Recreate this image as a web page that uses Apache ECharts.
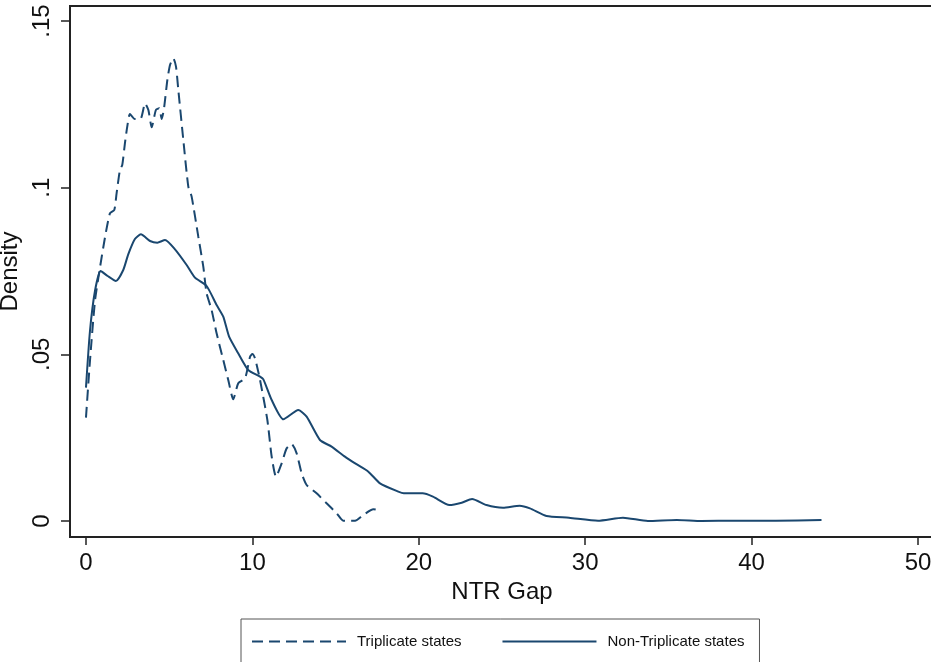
<!DOCTYPE html>
<html>
<head>
<meta charset="utf-8">
<script src="https://cdn.jsdelivr.net/npm/echarts@6/dist/echarts.min.js"></script>
<style>
  html, body { margin: 0; padding: 0; background: #fff; }
  #chart { width: 931px; height: 662px; }
</style>
</head>
<body>
<div id="chart"></div>
<script>
// kernel density
var triplicateGap = [0, 0.24, 0.54, 0.84, 1.14, 1.44, 1.7, 1.84, 2.04, 2.18, 2.34, 2.48, 2.64, 2.94, 3.3, 3.55, 3.75, 3.95, 4.2, 4.4, 4.55, 4.69, 4.89, 5.05, 5.25, 5.41, 5.55, 5.85, 6.15, 6.35, 6.75, 7.05, 7.25, 7.55, 7.85, 8.25, 8.55, 8.85, 9.15, 9.56, 9.86, 10.0, 10.16, 10.46, 10.9, 11.16, 11.42, 11.76, 12.06, 12.36, 12.66, 12.96, 13.26, 13.86, 14.46, 15.07, 15.46, 16.17, 16.66, 17.27, 17.77];
var triplicateDensity = [0.031, 0.048, 0.066, 0.076, 0.085, 0.0923, 0.0933, 0.0983, 0.1053, 0.1068, 0.1133, 0.1183, 0.1221, 0.1206, 0.1208, 0.1253, 0.1233, 0.1181, 0.1233, 0.1238, 0.1206, 0.1238, 0.1323, 0.1368, 0.1388, 0.1363, 0.1293, 0.1143, 0.1003, 0.0973, 0.0853, 0.0763, 0.0683, 0.0633, 0.0563, 0.0483, 0.0423, 0.0365, 0.0413, 0.0428, 0.0493, 0.0501, 0.0488, 0.0423, 0.0303, 0.0193, 0.0133, 0.0173, 0.0218, 0.0231, 0.0203, 0.0143, 0.0108, 0.0083, 0.0053, 0.0023, 0.0001, 0.0001, 0.0018, 0.0035, 0.0031];

var nonTriplicateGap = [0, 0.24, 0.54, 0.88, 1.3, 1.8, 2.24, 2.54, 2.94, 3.3, 3.85, 4.29, 4.75, 5.35, 6.05, 6.55, 7.25, 7.85, 8.25, 8.6, 9.15, 9.75, 10.46, 10.66, 11.16, 11.86, 12.76, 13.26, 14.06, 14.76, 15.56, 16.2, 16.97, 17.67, 18.77, 19.1, 20.23, 20.85, 21.84, 22.58, 23.2, 24.07, 25.06, 26.06, 26.68, 27.67, 29.03, 30.77, 32.27, 33.76, 35.5, 37, 39, 41.46, 44.2];
var nonTriplicateDensity = [0.040, 0.057, 0.069, 0.075, 0.0735, 0.072, 0.0753, 0.080, 0.0846, 0.086, 0.084, 0.0835, 0.0843, 0.0815, 0.0768, 0.073, 0.0705, 0.0648, 0.0613, 0.0553, 0.0503, 0.0453, 0.0433, 0.0425, 0.0363, 0.0305, 0.0333, 0.0313, 0.0243, 0.0223, 0.0193, 0.0172, 0.0148, 0.0113, 0.0088, 0.0083, 0.0083, 0.0073, 0.0048, 0.0055, 0.0066, 0.0048, 0.004, 0.0046, 0.0038, 0.0015, 0.001, 0.0001, 0.001, 0.0, 0.0003, 0.0, 0.0001, 0.0001, 0.0003];

var xTicks = [0, 10, 20, 30, 40, 50];
var yTicks = [0, 0.05, 0.1, 0.15];
var yTickLabels = ['0', '.05', '.1', '.15'];

function zip(xs, ys) {
    var out = [];
    for (var i = 0; i < xs.length; i++) {
        out.push([xs[i], ys[i]]);
    }
    return out;
}

var navy = '#1a476f';
var font = 'Liberation Sans, Arial, sans-serif';

var myChart = echarts.init(document.getElementById('chart'));

var option = {
    backgroundColor: '#fff',
    animation: false,
    grid: {
        left: 70,
        top: 6,
        right: -3,
        bottom: 125,
        outerBoundsMode: 'none',
        containLabel: false,
        show: true,
        borderColor: '#222',
        borderWidth: 2
    },
    legend: {
        left: 241,
        top: 619,
        orient: 'horizontal',
        itemWidth: 94,
        itemHeight: 14,
        itemGap: 40,
        padding: [15, 15, 30, 10],
        borderColor: '#555',
        borderWidth: 1,
        itemStyle: { opacity: 0 },
        textStyle: { fontFamily: font, fontSize: 15, color: '#111', padding: [0, 0, 0, 6] },
        data: ['Triplicate states', 'Non-Triplicate states']
    },
    xAxis: {
        type: 'value',
        min: -0.96,
        max: 50.96,
        name: 'NTR Gap',
        nameLocation: 'middle',
        nameGap: 42,
        nameTextStyle: { fontFamily: font, fontSize: 24, color: '#111' },
        splitLine: { show: false },
        axisLine: { show: true, onZero: false, lineStyle: { color: '#222', width: 2 } },
        axisTick: { show: true, length: 8, customValues: xTicks, lineStyle: { color: '#222', width: 1.5 } },
        axisLabel: { customValues: xTicks, margin: 14, fontFamily: font, fontSize: 24, color: '#111' }
    },
    yAxis: {
        type: 'value',
        min: -0.0048,
        max: 0.1545,
        name: 'Density',
        nameLocation: 'middle',
        nameRotate: 90,
        nameGap: 41,
        nameTextStyle: { fontFamily: font, fontSize: 24, color: '#111' },
        splitLine: { show: false },
        axisLine: { show: true, onZero: false, lineStyle: { color: '#222', width: 2 } },
        axisTick: { show: true, length: 9, customValues: yTicks, lineStyle: { color: '#222', width: 1.5 } },
        axisLabel: {
            customValues: yTicks,
            rotate: 90,
            margin: 16,
            fontFamily: font,
            fontSize: 24,
            color: '#111',
            formatter: function (v) {
                var k = yTicks.indexOf(v);
                return k >= 0 ? yTickLabels[k] : '';
            }
        }
    },
    series: [
        {
            name: 'Triplicate states',
            type: 'line',
            data: zip(triplicateGap, triplicateDensity),
            symbol: 'none',
            smooth: 0.2,
            itemStyle: { color: navy },
            lineStyle: { color: navy, width: 2, type: [11, 6] }
        },
        {
            name: 'Non-Triplicate states',
            type: 'line',
            data: zip(nonTriplicateGap, nonTriplicateDensity),
            symbol: 'none',
            smooth: 0.2,
            itemStyle: { color: navy },
            lineStyle: { color: navy, width: 2 }
        }
    ]
};

myChart.setOption(option);
</script>
</body>
</html>
